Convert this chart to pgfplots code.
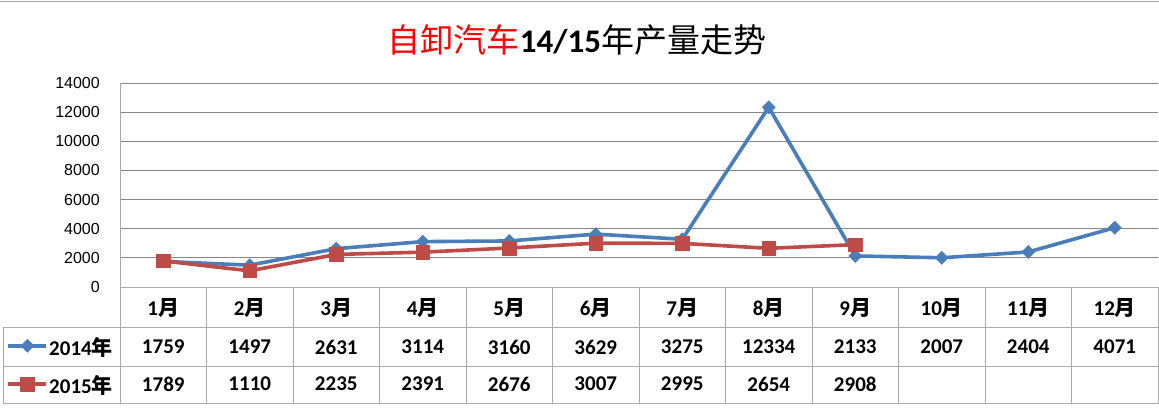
\documentclass[border=0pt]{standalone}
\usepackage{pgfplots}
\usepackage{pgfplotstable}
\pgfplotsset{compat=1.18}
\usepackage{fontspec}
\setmainfont{Carlito}
\newfontfamily\cjk{Noto Sans CJK SC}
\newfontfamily\tickfont{Liberation Sans}
\definecolor{bl}{RGB}{74,126,187}
\definecolor{rd}{RGB}{190,75,72}
\definecolor{gridc}{RGB}{134,134,134}
\definecolor{tabc}{RGB}{170,170,170}
\pgfplotstableread{
x a
0 1759
1 1497
2 2631
3 3114
4 3160
5 3629
6 3275
7 12334
8 2133
9 2007
10 2404
11 4071
}\tA
\pgfplotstableread{
x b
0 1789
1 1110
2 2235
3 2391
4 2676
5 3007
6 2995
7 2654
8 2908
}\tB
\begin{document}
\begin{tikzpicture}[x=1pt,y=1pt]
\useasboundingbox (0,0) rectangle (1159,408);
\draw[gray!70, line width=1.5pt] (0,406.5) -- (1159,406.5);
\node[font=\fontsize{33}{33}\selectfont, inner sep=0pt] at (577,368)
  {{\cjk\color{red}自卸汽车}\textbf{14/15}{\cjk 年产量走势}};
\begin{axis}[
  at={(120pt,121pt)}, anchor=south west,
  scale only axis, width=1038pt, height=204pt,
  xmin=-0.5, xmax=11.5, ymin=0, ymax=14000,
  clip=false,
  axis lines=left,
  axis line style={-, draw=tabc, line width=0.8pt},
  ytick={0,2000,...,14000},
  ymajorgrids, grid style={draw=gridc, line width=0.8pt},
  scaled y ticks=false,
  major tick length=0pt,
  /pgf/number format/1000 sep={},
  /pgf/number format/assume math mode=true,
  yticklabel style={font=\tickfont\fontsize{16}{16}\selectfont, anchor=east, inner sep=0pt, xshift=-20pt},
  xtick={0,...,11},
  xticklabels={{1{\cjk 月}},{2{\cjk 月}},{3{\cjk 月}},{4{\cjk 月}},{5{\cjk 月}},{6{\cjk 月}},{7{\cjk 月}},{8{\cjk 月}},{9{\cjk 月}},{10{\cjk 月}},{11{\cjk 月}},{12{\cjk 月}}},
  xticklabel style={font=\bfseries\fontsize{21}{21}\selectfont, anchor=center, inner sep=0pt, yshift=-21pt},
  legend image code/.code={\draw[#1, mark=none] (0pt,3pt) -- (38pt,3pt);
     \draw[#1] plot coordinates {(19pt,3pt)};},
  legend style={at={(axis description cs:0,0)}, anchor=north east, xshift=-6pt, yshift=-52pt,
     draw=none, fill=none, inner sep=0pt, row sep=20pt,
     font=\bfseries\fontsize{21}{21}\selectfont,
     nodes={inner sep=1pt, text height=14pt, text depth=1pt}},
  legend cell align=left,
]
\addplot[color=bl, line width=3.6pt, mark=square*, mark size=4.6pt, mark options={rotate=45, line width=0.5pt}] table[x=x, y=a]{\tA};
\addlegendentry{2014{\cjk 年}}
\addplot[color=rd, line width=3.6pt, mark=square*, mark size=6.8pt, mark options={line width=0.5pt}] table[x=x, y=b]{\tB};
\addlegendentry{2015{\cjk 年}}
\addplot[draw=none, mark=none, forget plot, point meta=explicit symbolic,
  nodes near coords={\pgfplotspointmeta},
  nodes near coords style={anchor=center, inner sep=0pt, yshift=-60pt, text=black, font=\bfseries\fontsize{21}{21}\selectfont}]
  table[x=x, y expr=0, meta=a]{\tA};
\addplot[draw=none, mark=none, forget plot, point meta=explicit symbolic,
  nodes near coords={\pgfplotspointmeta},
  nodes near coords style={anchor=center, inner sep=0pt, yshift=-97pt, text=black, font=\bfseries\fontsize{21}{21}\selectfont}]
  table[x=x, y expr=0, meta=b]{\tB};
\end{axis}
\begin{scope}[draw=tabc, line width=0.8pt]
\draw (120,121) -- (1158,121);
\draw (3,81) -- (1158,81);
\draw (3,42) -- (1158,42);
\draw (3,4.5) -- (1158,4.5);
\draw (3,81) -- (3,4.5);
\foreach \k in {0,...,12} {\draw ({120+86.5*\k},121) -- ({120+86.5*\k},4.5);}
\end{scope}
\end{tikzpicture}
\end{document}
